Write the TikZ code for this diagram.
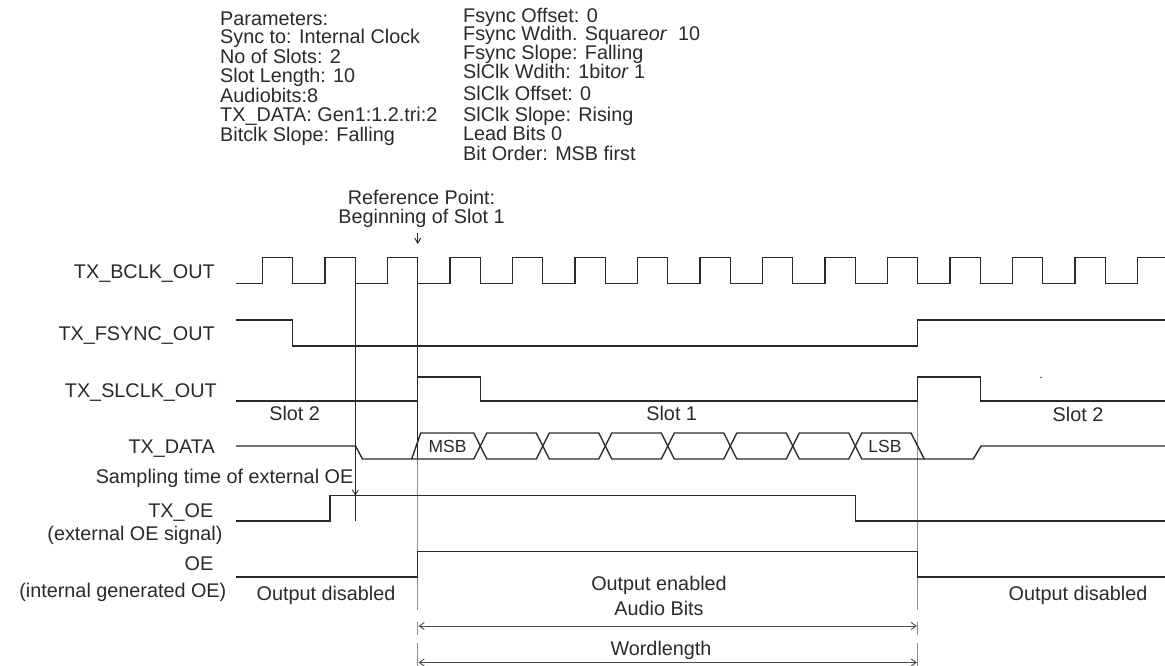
\documentclass[tikz,border=0pt]{standalone}
\usepackage{fontspec}
\setmainfont{Liberation Sans}
\usetikzlibrary{arrows.meta}
\definecolor{ink}{HTML}{2A2A2A}
\definecolor{guide}{HTML}{8C8C8C}
\begin{document}
\begin{tikzpicture}[x=1pt,y=-1pt,
  txt/.style={inner sep=0pt, text height=14pt, text depth=0pt, font=\fontsize{19.8}{20}\selectfont, text=ink},
  small/.style={inner sep=0pt, text height=12.5pt, text depth=0pt, font=\fontsize{17.5}{18}\selectfont, text=ink},
  wave/.style={draw=ink, line width=1.4pt, line join=miter},
  guideline/.style={draw=guide, line width=0.8pt},
  marker/.style={draw=ink, line width=0.9pt},
  tip/.style={-{Straight Barb[length=5pt,width=6pt]}},
  dim/.style={draw=ink!85, line width=0.9pt, {Straight Barb[length=5pt,width=7pt]}-{Straight Barb[length=5pt,width=7pt]}},
]
\useasboundingbox (0,0) rectangle (1165,666);

% ---------------- parameters ----------------
\node[txt, anchor=west] (pl0) at (220,18.3) {Parameters:};
\node[txt, anchor=west] (pl1) at (220,37.0) {Sync to: Internal Clock};
\node[txt, anchor=west] (pl2) at (220,56.3) {No of Slots: 2};
\node[txt, anchor=west] (pl3) at (220,76.0) {Slot Length: 10};
\node[txt, anchor=west] (pl4) at (220,95.3) {Audiobits:8};
\node[txt, anchor=west] (pl5) at (220,115.0) {TX\_DATA: Gen1:1.2.tri:2};
\node[txt, anchor=west] (pl6) at (220,134.8) {Bitclk Slope: Falling};
\node[txt, anchor=west] (pr0) at (463,15.3) {Fsync Offset: 0};
\node[txt, anchor=west] (pr1) at (463,33.8) {Fsync Wdith. Square\textit{or}\ \ 10};
\node[txt, anchor=west] (pr2) at (463,52.5) {Fsync Slope: Falling};
\node[txt, anchor=west] (pr3) at (463,72.0) {SlClk Wdith: 1bit\textit{or} 1};
\node[txt, anchor=west] (pr4) at (463,93.3) {SlClk Offset: 0};
\node[txt, anchor=west] (pr5) at (463,114.3) {SlClk Slope: Rising};
\node[txt, anchor=west] (pr6) at (463,133.3) {Lead Bits 0};
\node[txt, anchor=west] (pr7) at (463,153.5) {Bit Order: MSB first};

% ---------------- reference point ----------------
\node[txt] (ref1) at (421.5,197.3) {Reference Point:};
\node[txt] (ref2) at (421.5,216.7) {Beginning of Slot 1};
\coordinate (refA) at (417.7,233);
\coordinate (refB) at (417.7,244);
\draw[marker, tip] (refA) -- (refB);

% ---------------- signal names ----------------
\node[txt, anchor=east] (nB) at (215,271) {TX\_BCLK\_OUT};
\node[txt, anchor=east] (nF) at (215,333) {TX\_FSYNC\_OUT};
\node[txt, anchor=east] (nS) at (217,390) {TX\_SLCLK\_OUT};
\node[txt, anchor=east] (nD) at (215,446.5) {TX\_DATA};
\node[txt, anchor=east] (nSm) at (353.5,476) {Sampling time of external OE};
\node[txt, anchor=east] (nT1) at (213.5,510) {TX\_OE};
\node[txt, anchor=east] (nT2) at (222.6,533.4) {(external OE signal)};
\node[txt, anchor=east] (nO1) at (213.5,563) {OE};
\node[txt, anchor=east] (nO2) at (226.5,590) {(internal generated OE)};

% ---------------- guide lines ----------------
\draw[guideline] (417.7,459) -- (417.7,551.5);
\draw[guideline] (417.7,577) -- (417.7,610);
\draw[guideline] (417.7,621.7) -- (417.7,635);
\draw[guideline] (417.7,643.3) -- (417.7,666);
\draw[guideline] (917.7,401) -- (917.7,551.5);
\draw[guideline] (917.7,577) -- (917.7,610);
\draw[guideline] (917.7,621.7) -- (917.7,635);
\draw[guideline] (917.7,643.3) -- (917.7,666);

% ---------------- TX_BCLK_OUT ----------------
\draw[wave] (236,283.3) foreach \k in {0,...,13} {
   -- ({262.3+62.5*\k},283.3) -- ({262.3+62.5*\k},257.7)
   -- ({292.7+62.5*\k},257.7) -- ({292.7+62.5*\k},283.3) }
   -- (1137.3,283.3) -- (1137.3,257.7) -- (1165,257.7);

% ---------------- TX_FSYNC_OUT ----------------
\draw[wave] (236,320) -- (292.7,320) -- (292.7,346) -- (917.7,346) -- (917.7,320) -- (1165,320);

% ---------------- TX_SLCLK_OUT ----------------
\draw[wave] (236,401) -- (417.7,401) -- (417.7,377) -- (480.3,377) -- (480.3,401)
  -- (917.7,401) -- (917.7,377) -- (980.3,377) -- (980.3,401) -- (1165,401);
\fill[ink] (1041,377.3) circle (0.8);

% ---------------- reference & sampling lines ----------------
\draw[draw=ink, line width=1.4pt] (417.7,283.3) -- (417.7,459);
\coordinate (smTop) at (355.3,283.3);
\coordinate (smBot) at (355.3,521);
\coordinate (smTip) at (355.3,495.7);
\draw[marker] (smTop) -- (smBot);
\draw[marker, tip] (355.3,484) -- (smTip);

% ---------------- TX_DATA ----------------
\def\d{6.5}
\draw[wave] (236,446) -- (355.5,446) -- (362.5,459)
  -- ({480.3-\d},459) -- ({480.3+\d},433)
  -- ({542.8-\d},433) -- ({542.8+\d},459)
  -- ({605.3-\d},459) -- ({605.3+\d},433)
  -- ({667.8-\d},433) -- ({667.8+\d},459)
  -- ({730.3-\d},459) -- ({730.3+\d},433)
  -- ({792.8-\d},433) -- ({792.8+\d},459)
  -- ({855.3-\d},459) -- ({855.3+\d},433)
  -- (911,433) -- (924.3,459) -- (973.3,459) -- (981,446) -- (1165,446);
\draw[wave] (411.7,459) -- (420.7,433)
  -- ({480.3-\d},433) -- ({480.3+\d},459)
  -- ({542.8-\d},459) -- ({542.8+\d},433)
  -- ({605.3-\d},433) -- ({605.3+\d},459)
  -- ({667.8-\d},459) -- ({667.8+\d},433)
  -- ({730.3-\d},433) -- ({730.3+\d},459)
  -- ({792.8-\d},459) -- ({792.8+\d},433)
  -- ({855.3-\d},433) -- ({855.3+\d},459) -- (924.3,459);
\node[small] (msb) at (447.5,446.5) {MSB};
\node[small] (lsb) at (885,446.5) {LSB};

% ---------------- TX_OE ----------------
\draw[wave] (236,521) -- (330,521) -- (330,495.7) -- (855.3,495.7) -- (855.3,521) -- (1165,521);

% ---------------- OE ----------------
\draw[wave] (236,577) -- (417.7,577) -- (417.7,551.5) -- (917.7,551.5) -- (917.7,577) -- (1165,577);

% ---------------- slot / state labels ----------------
\node[txt] (s2a) at (294.7,413) {Slot 2};
\node[txt] (s1) at (671.7,413) {Slot 1};
\node[txt] (s2b) at (1078,414) {Slot 2};
\node[txt] (od1) at (326,593.5) {Output disabled};
\node[txt] (od2) at (1078,593.5) {Output disabled};
\node[txt] (oe1) at (659,583.3) {Output enabled};
\node[txt] (ab) at (659,608.3) {Audio Bits};
\node[txt] (wl) at (661,648.3) {Wordlength};

% ---------------- dimension arrows ----------------
\coordinate (a1L) at (418.5,626);
\coordinate (a1R) at (916.9,626);
\coordinate (a2L) at (418.5,662.5);
\coordinate (a2R) at (916.9,662.5);
\draw[dim] (a1L) -- (a1R);
\draw[dim] (a2L) -- (a2R);
\end{tikzpicture}
\end{document}
